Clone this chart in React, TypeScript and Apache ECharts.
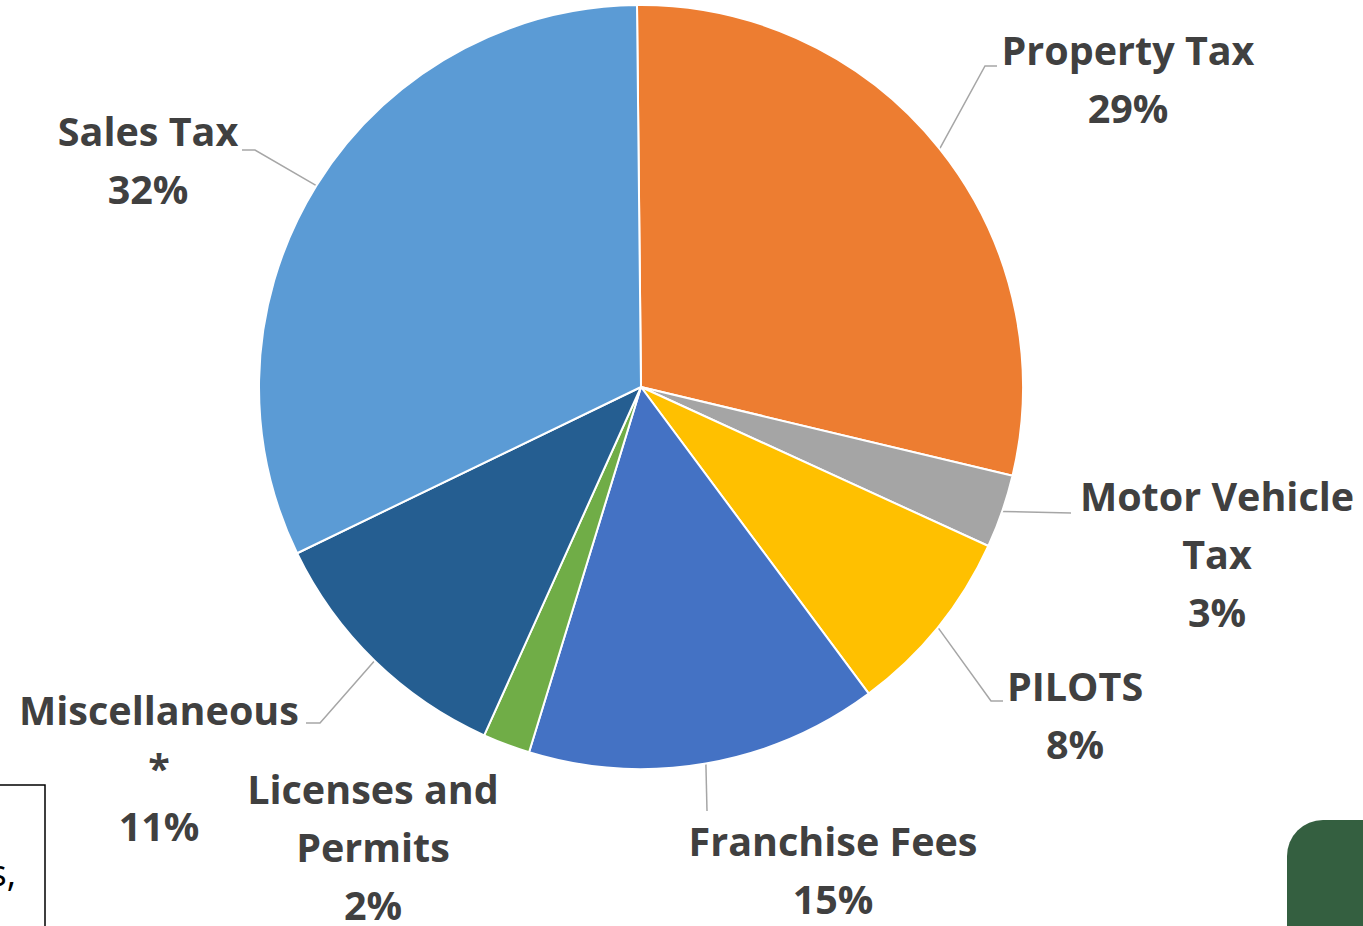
import React, { useEffect, useRef } from "react";
import * as echarts from "echarts";

const categories = [
  "Property Tax",
  "Motor Vehicle\nTax",
  "PILOTS",
  "Franchise Fees",
  "Licenses and\nPermits",
  "Miscellaneous\n*",
  "Sales Tax",
];
const values = [28.9, 3.1, 8.0, 14.9, 2.0, 11.1, 32.0];
const colors = ["#ED7D31", "#A5A5A5", "#FFC000", "#4472C4", "#70AD47", "#255E91", "#5B9BD5"];

// label placement: block center, leader elbow and end (null => no leader line)
const labelPlacement: Array<{ x: number; y: number; elbow: number[] | null; end: number[] | null }> = [
  { x: 1128, y: 79, elbow: [985, 66], end: [997, 66] },
  { x: 1217, y: 554, elbow: [1071, 513], end: [1071, 513] },
  { x: 1075, y: 715, elbow: [991, 701], end: [1003, 701] },
  { x: 833, y: 870, elbow: [707, 811], end: [707, 811] },
  { x: 373, y: 847, elbow: null, end: null },
  { x: 159, y: 768, elbow: [320, 723], end: [306, 723] },
  { x: 148, y: 160, elbow: [255, 150], end: [242, 150] },
];

const CX = 641;
const CY = 387;
const R = 382;
const START = 90.6;

export default function App() {
  const ref = useRef<HTMLDivElement>(null);
  useEffect(() => {
    if (!ref.current) return;
    const chart = echarts.init(ref.current, undefined, { renderer: "svg" });
    const total = values.reduce((a, b) => a + b, 0);
    const anchors = values.map((v, i) => {
      const before = values.slice(0, i).reduce((a, b) => a + b, 0);
      const midDeg = (90 - START) + ((before + v / 2) / total) * 360;
      const rad = (midDeg * Math.PI) / 180;
      return [CX + R * Math.sin(rad), CY - R * Math.cos(rad)];
    });
    chart.setOption({
      animation: false,
      backgroundColor: "#ffffff",
      graphic: [
        {
          type: "rect",
          shape: { x: -300, y: 785, width: 345, height: 300 },
          style: { fill: "#ffffff", stroke: "#000000", lineWidth: 1.5 },
          z: 1,
        },
        {
          type: "text",
          x: 16,
          y: 872,
          style: {
            text: "s,",
            align: "right",
            verticalAlign: "middle",
            font: "36px 'Open Sans', sans-serif",
            fill: "#000000",
          },
          z: 2,
        },
        {
          type: "rect",
          shape: { x: 1287, y: 820, width: 200, height: 200, r: 36 },
          style: { fill: "#345F40" },
          z: 1,
        },
      ],
      series: [
        {
          type: "pie",
          center: [CX, CY],
          radius: [0, R],
          startAngle: START,
          clockwise: true,
          avoidLabelOverlap: false,
          percentPrecision: 0,
          emphasis: { disabled: true },
          itemStyle: { borderColor: "#ffffff", borderWidth: 2 },
          label: {
            show: true,
            position: "outside",
            formatter: "{b}\n{d}%",
            color: "#404040",
            fontFamily: "'Open Sans', sans-serif",
            fontWeight: "bold",
            fontSize: 39.5,
            lineHeight: 58,
            align: "center",
          },
          labelLine: {
            show: true,
            lineStyle: { color: "#A6A6A6", width: 1.5 },
          },
          labelLayout: (params: any) => {
            const p = labelPlacement[params.dataIndex];
            const res: any = { x: p.x, y: p.y, align: "center", verticalAlign: "middle" };
            if (p.elbow && p.end) {
              res.labelLinePoints = [anchors[params.dataIndex], p.elbow, p.end];
            }
            return res;
          },
          data: categories.map((name, i) => ({
            name,
            value: values[i],
            itemStyle: { color: colors[i] },
            labelLine: { show: labelPlacement[i].elbow !== null },
          })),
        },
      ],
    });
    return () => chart.dispose();
  }, []);
  return (
    <div
      ref={ref}
      style={{ position: "absolute", left: 0, top: 0, width: 1363, height: 926 }}
    />
  );
}
